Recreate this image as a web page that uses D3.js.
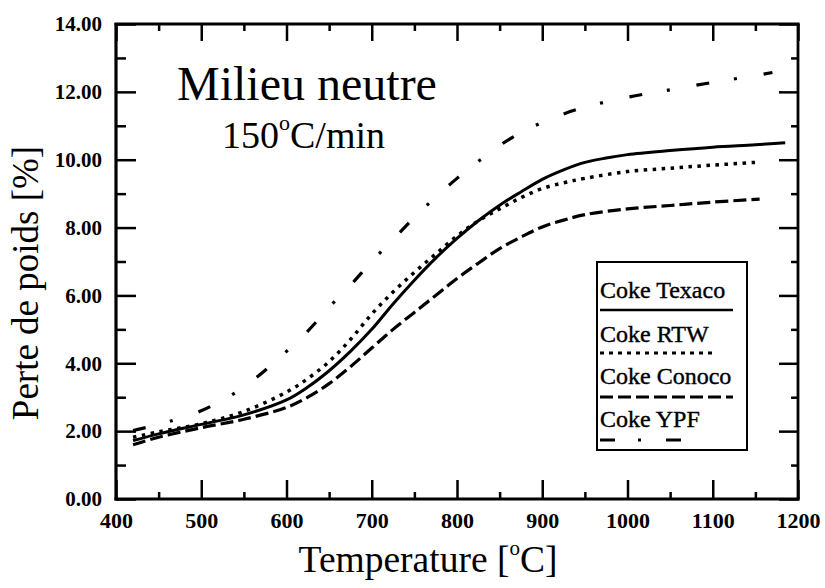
<!DOCTYPE html>
<html><head><meta charset="utf-8">
<script src="https://cdn.jsdelivr.net/npm/d3@7"></script>
<style>
html,body{margin:0;padding:0;background:#fff;}
svg{display:block;}
svg text{font-family:'Liberation Serif',serif !important;fill:#000;}
</style></head>
<body>
<svg id="c" width="825" height="588"></svg>
<script>
// ---- data ----
const xTicks = [400,500,600,700,800,900,1000,1100,1200];
const yTicks = [0,2,4,6,8,10,12,14];
const yTickLabels = ["0.00","2.00","4.00","6.00","8.00","10.00","12.00","14.00"];
const seriesNames = ["Coke Texaco","Coke RTW","Coke Conoco","Coke YPF"];

const texacoT = [420,450,500,550,600,625,650,675,700,725,750,775,800,825,850,875,900,925,950,975,1000,1050,1100,1150,1185];
const texacoV = [1.72,1.92,2.2,2.48,2.92,3.3,3.78,4.35,5.0,5.75,6.45,7.1,7.68,8.2,8.66,9.05,9.42,9.7,9.92,10.05,10.15,10.27,10.37,10.44,10.5];

const rtwT = [420,450,500,550,600,625,650,675,700,725,750,775,800,825,850,875,900,925,950,1000,1050,1100,1155];
const rtwV = [1.82,1.98,2.22,2.58,3.15,3.55,4.05,4.7,5.45,6.1,6.68,7.22,7.75,8.2,8.55,8.88,9.15,9.32,9.45,9.65,9.75,9.84,9.93];

const conocoT = [420,450,500,550,600,625,650,675,700,725,750,775,800,825,850,875,900,925,950,1000,1050,1100,1155];
const conocoV = [1.6,1.82,2.1,2.35,2.7,3.0,3.4,3.9,4.45,5.0,5.5,6.0,6.5,6.95,7.38,7.72,8.02,8.22,8.38,8.55,8.65,8.75,8.84];

const ypfT = [420,450,500,550,600,625,650,675,700,725,750,775,800,825,850,875,900,925,950,1000,1050,1100,1150,1170];
const ypfV = [2.02,2.2,2.6,3.3,4.35,4.95,5.65,6.3,7.0,7.65,8.3,8.9,9.45,9.95,10.42,10.8,11.1,11.35,11.55,11.84,12.06,12.28,12.48,12.57];

// ---- layout ----
const FONT = "'Liberation Serif', serif";
const svg = d3.select("#c");
const L = 116, R = 798, T = 24, B = 499;
const x = d3.scaleLinear().domain([400,1200]).range([L,R]);
const y = d3.scaleLinear().domain([0,14]).range([B,T]);

const dashes = ["none","3.5,5.5","13,5","13,25,3,27"];
const widths = [3,3.5,3.2,3.2];
const series = [[texacoT,texacoV],[rtwT,rtwV],[conocoT,conocoV],[ypfT,ypfV]];

const line = d3.line().x(d=>x(d[0])).y(d=>y(d[1])).curve(d3.curveCatmullRom.alpha(0.5));
series.forEach((s,i)=>{
  const pts = s[0].map((t,k)=>[t,s[1][k]]);
  svg.append("path").attr("d",line(pts)).attr("fill","none").attr("stroke","#000")
    .attr("stroke-width",widths[i]).attr("stroke-dasharray",dashes[i]);
});

// ---- axes ----
const xMinor = d3.range(450,1200,100);
const yMinor = d3.range(1,14,2);
function styleAxis(g){ g.attr("font-family",FONT); g.select(".domain").remove(); g.selectAll("line").attr("stroke","#000").attr("stroke-width",2.5); }

svg.append("g").attr("transform",`translate(0,${B})`)
  .call(d3.axisBottom(x).tickValues(xTicks).tickSize(-19).tickFormat(d3.format("d")))
  .call(styleAxis)
  .call(g=>g.selectAll("text").attr("font-size",22).attr("font-weight","bold").attr("dy",null).attr("y",29).attr("font-family",FONT));
svg.append("g").attr("transform",`translate(0,${B})`)
  .call(d3.axisBottom(x).tickValues(xMinor).tickSize(-7).tickFormat("")).call(styleAxis);
svg.append("g").attr("transform",`translate(0,${T})`)
  .call(d3.axisTop(x).tickValues(xTicks).tickSize(-17).tickFormat("")).call(styleAxis);
svg.append("g").attr("transform",`translate(0,${T})`)
  .call(d3.axisTop(x).tickValues(xMinor).tickSize(-7).tickFormat("")).call(styleAxis);

svg.append("g").attr("transform",`translate(${L},0)`)
  .call(d3.axisLeft(y).tickValues(yTicks).tickSize(-20).tickFormat((d,i)=>yTickLabels[i]))
  .call(styleAxis)
  .call(g=>g.selectAll("text").attr("font-size",21).attr("font-weight","bold").attr("x",-14).attr("font-family",FONT));
svg.append("g").attr("transform",`translate(${L},0)`)
  .call(d3.axisLeft(y).tickValues(yMinor).tickSize(-10).tickFormat("")).call(styleAxis);
svg.append("g").attr("transform",`translate(${R},0)`)
  .call(d3.axisRight(y).tickValues(yTicks).tickSize(-19).tickFormat("")).call(styleAxis);
svg.append("g").attr("transform",`translate(${R},0)`)
  .call(d3.axisRight(y).tickValues(yMinor).tickSize(-7).tickFormat("")).call(styleAxis);

// frame
svg.append("line").attr("x1",L).attr("x2",L).attr("y1",T-1).attr("y2",B+1.5).attr("stroke","#000").attr("stroke-width",3.2);
svg.append("line").attr("x1",L-1.5).attr("x2",R+1.5).attr("y1",B).attr("y2",B).attr("stroke","#000").attr("stroke-width",3.2);
svg.append("line").attr("x1",L-1.5).attr("x2",R+1.5).attr("y1",T).attr("y2",T).attr("stroke","#000").attr("stroke-width",2.8);
svg.append("line").attr("x1",R).attr("x2",R).attr("y1",T-1).attr("y2",B+1.5).attr("stroke","#000").attr("stroke-width",2.8);

// ---- labels ----
const xl = svg.append("text").attr("x",428).attr("y",572).attr("text-anchor","middle").attr("font-size",37.5).attr("font-family",FONT);
xl.append("tspan").text("Temperature [");
xl.append("tspan").attr("font-size",21).attr("dy",-17).text("o");
xl.append("tspan").attr("dy",17).text("C]");

svg.append("text").attr("transform","translate(38,283) rotate(-90)").attr("text-anchor","middle")
  .attr("font-size",37).attr("font-family",FONT).text("Perte de poids [%]");

svg.append("text").attr("x",177).attr("y",100).attr("font-size",48).attr("font-family",FONT).text("Milieu neutre");
const st = svg.append("text").attr("x",222).attr("y",148).attr("font-size",38).attr("font-family",FONT);
st.append("tspan").text("150");
st.append("tspan").attr("font-size",22).attr("dy",-18).text("o");
st.append("tspan").attr("dy",18).text("C/min");

// ---- legend ----
const lg = svg.append("g");
lg.append("rect").attr("x",597).attr("y",262).attr("width",150).attr("height",188)
  .attr("fill","#fff").attr("stroke","#000").attr("stroke-width",2);
const legBase = [298,342,384,427];
const legLineY = [310,353,397,440];
const legLineEnd = [733,713,733,683];
const legDash = ["none","4,5","13,5","15,23,3,25"];
seriesNames.forEach((n,i)=>{
  lg.append("text").attr("x",600).attr("y",legBase[i]).attr("font-size",24).attr("font-family",FONT)
    .attr("stroke","#000").attr("stroke-width",0.4).text(n);
  lg.append("line").attr("x1",600).attr("x2",legLineEnd[i]).attr("y1",legLineY[i]).attr("y2",legLineY[i])
    .attr("stroke","#000").attr("stroke-width",i===0?2.5:3).attr("stroke-dasharray",legDash[i]);
});
</script>
</body></html>
